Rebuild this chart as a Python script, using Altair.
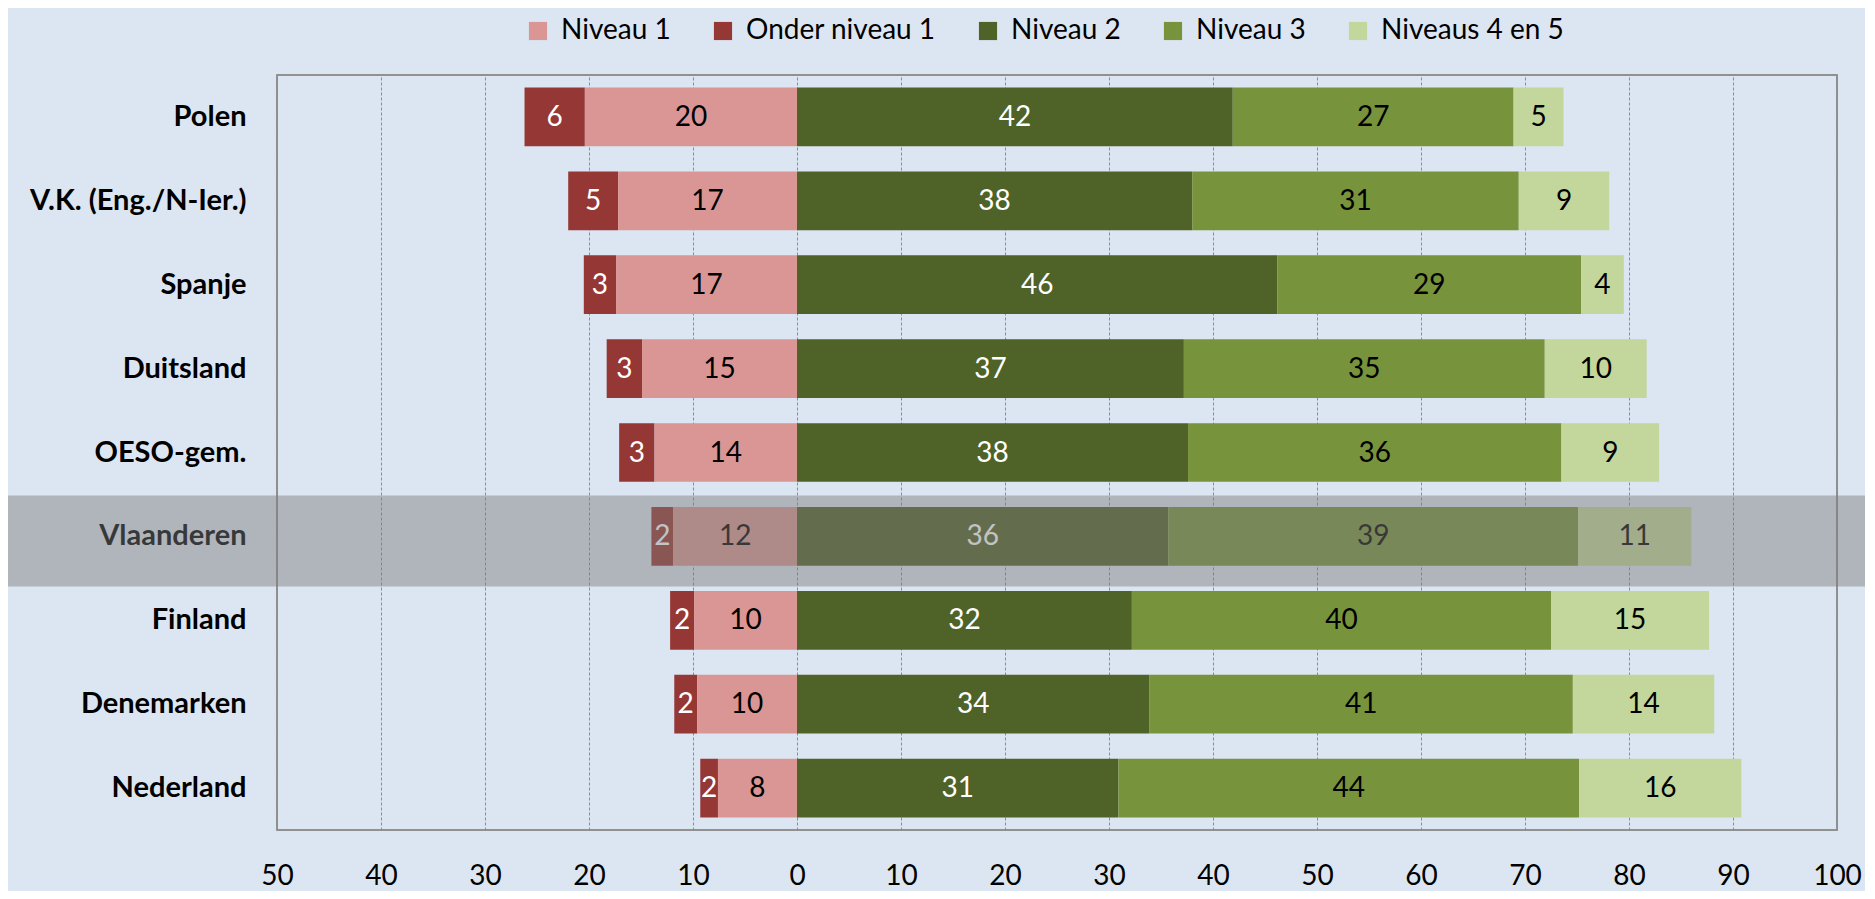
import altair as alt
import pandas as pd

# ---- data ----
countries = ["Polen", "V.K. (Eng./N-Ier.)", "Spanje", "Duitsland", "OESO-gem.",
             "Vlaanderen", "Finland", "Denemarken", "Nederland"]
onder_niveau_1 = [5.8, 4.8, 3.1, 3.4, 3.4, 2.1, 2.3, 2.2, 1.7]
niveau_1 = [20.4, 17.2, 17.4, 14.9, 13.7, 11.9, 9.9, 9.6, 7.6]
niveau_2 = [41.9, 38.0, 46.2, 37.2, 37.6, 35.7, 32.2, 33.9, 30.9]
niveau_3 = [27.0, 31.4, 29.2, 34.7, 35.9, 39.4, 40.3, 40.7, 44.3]
niveau_45 = [4.8, 8.7, 4.1, 9.8, 9.4, 10.9, 15.2, 13.6, 15.6]
highlight = ["Vlaanderen"]
x_ticks = list(range(-50, 101, 10))
x_domain = [-50, 100]

levels = ["Niveau 1", "Onder niveau 1", "Niveau 2", "Niveau 3", "Niveaus 4 en 5"]
level_colors = ["#D99694", "#953735", "#4F6228", "#77933C", "#C3D69B"]
text_colors = {"Niveau 1": "black", "Onder niveau 1": "white", "Niveau 2": "white",
               "Niveau 3": "black", "Niveaus 4 en 5": "black"}

rows = []
for i, c in enumerate(countries):
    o, n1, n2, n3, n45 = onder_niveau_1[i], niveau_1[i], niveau_2[i], niveau_3[i], niveau_45[i]
    segs = [
        ("Onder niveau 1", -(n1 + o), -n1, o),
        ("Niveau 1", -n1, 0.0, n1),
        ("Niveau 2", 0.0, n2, n2),
        ("Niveau 3", n2, n2 + n3, n3),
        ("Niveaus 4 en 5", n2 + n3, n2 + n3 + n45, n45),
    ]
    for lvl, a, b, v in segs:
        rows.append({"land": c, "niveau": lvl, "start": a, "end": b,
                     "mid": (a + b) / 2, "val": v, "tcol": text_colors[lvl]})
df = pd.DataFrame(rows)
band_df = pd.DataFrame({"land": highlight})
frame_df = pd.DataFrame({"lo": [x_domain[0]], "hi": [x_domain[1]]})

FONT = "Lato"

y_enc = alt.Y("land:N", sort=countries,
              scale=alt.Scale(domain=countries, paddingInner=0.3, paddingOuter=0.15),
              axis=alt.Axis(title=None, domain=False, ticks=False, grid=False,
                            labelPadding=31, labelFontSize=29, labelFontWeight="bold",
                            labelColor="black", labelFont=FONT, labelLimit=400))

x_scale = alt.Scale(domain=x_domain, nice=False, zero=False)

bars = alt.Chart(df).mark_bar(strokeWidth=0).encode(
    y=y_enc,
    x=alt.X("start:Q", scale=x_scale,
            axis=alt.Axis(title=None, values=x_ticks, labelExpr="abs(datum.value)",
                          domain=False, ticks=False, grid=True, gridDash=[3, 2],
                          gridColor="#8C8C8C", gridWidth=1, labelFontSize=28,
                          labelFont=FONT, labelColor="black", labelPadding=32,
                          labelBaseline="top", labelFlush=False, labelOverlap=False,
                          labelBound=False)),
    x2="end:Q",
    color=alt.Color("niveau:N",
                    scale=alt.Scale(domain=levels, range=level_colors),
                    legend=alt.Legend(title=None, orient="none", direction="horizontal",
                                      legendX=247, legendY=-58, symbolType="square",
                                      symbolSize=330, symbolStrokeWidth=0,
                                      labelFontSize=28, labelFont=FONT, labelColor="black",
                                      labelOffset=9, columnPadding=38, labelLimit=400)),
)

labels = alt.Chart(df).mark_text(font=FONT, fontSize=28, align="center",
                                  baseline="middle", dy=1).encode(
    y=alt.Y("land:N", sort=countries),
    x=alt.X("mid:Q", scale=x_scale),
    text=alt.Text("val:Q", format=".0f"),
    color=alt.Color("tcol:N", scale=None),
)

# plot-area frame spanning the x domain
frame = alt.Chart(frame_df).mark_rect(fill=None, stroke="#8C8C8C", strokeWidth=1.5).encode(
    x=alt.X("lo:Q", scale=x_scale),
    x2="hi:Q",
    y=alt.value(0),
    y2=alt.value(755),
)

band = alt.Chart(band_df).mark_bar(size=91, yOffset=4.6, color="#7B7B7B",
                                   opacity=0.454).encode(
    y=alt.Y("land:N", sort=countries),
    x=alt.value(-269),
    x2=alt.value(1588),
)

chart = alt.layer(bars, labels, frame, band).properties(
    width=1560, height=755,
    autosize=alt.AutoSizeParams(type="none"),
    padding={"left": 269, "top": 67, "right": 28, "bottom": 61},
    background="#DCE6F2",
).configure(font=FONT).configure_view(stroke="#8C8C8C", strokeWidth=1.5)

chart.save("out.html", embed_options={"renderer": "svg", "actions": False})
